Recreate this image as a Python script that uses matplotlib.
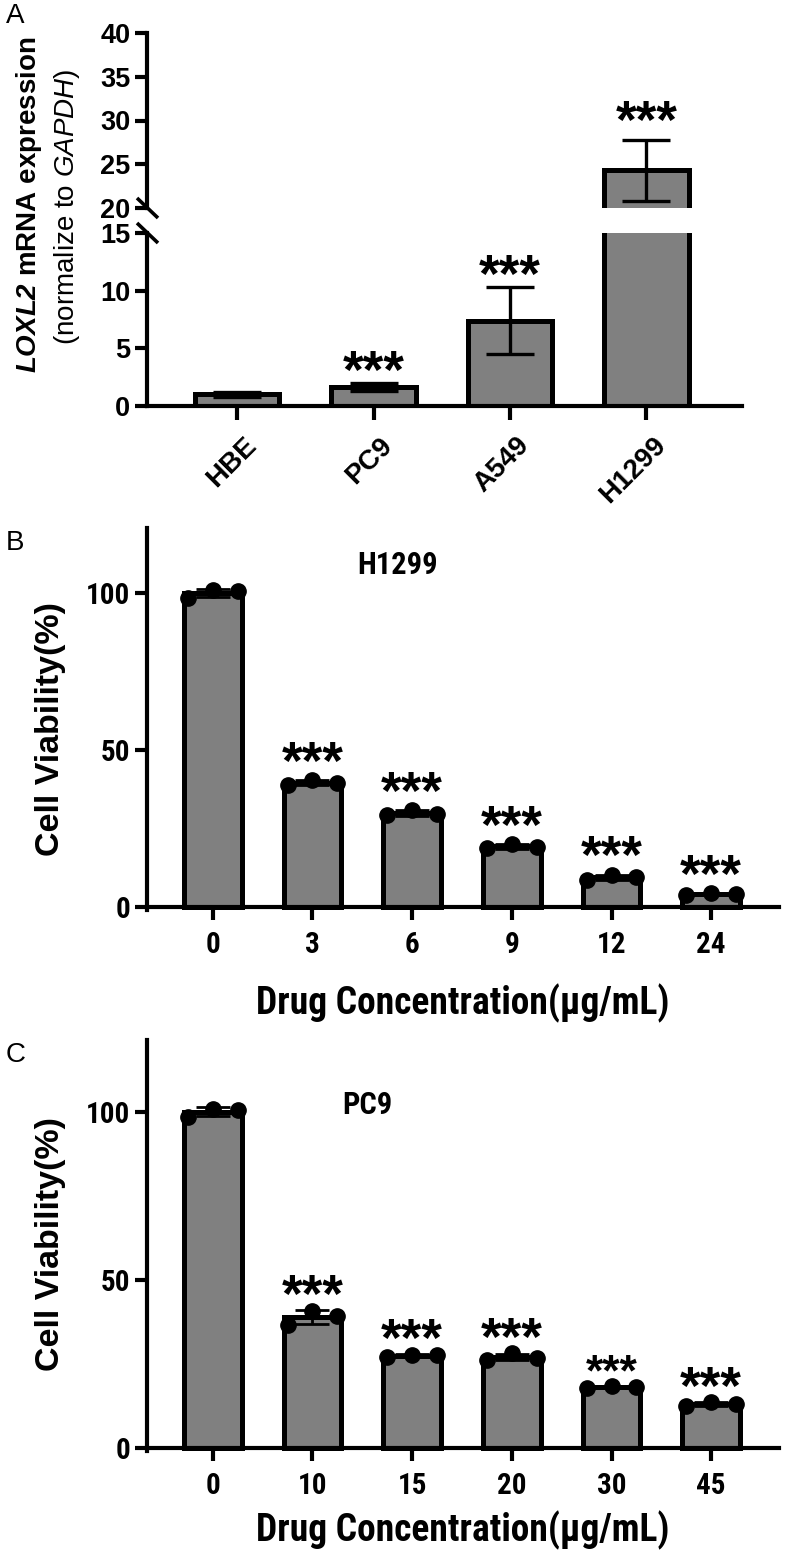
import os
import matplotlib
matplotlib.use('Agg')
import matplotlib.pyplot as plt
from matplotlib import font_manager as fm
from matplotlib.font_manager import FontProperties
from matplotlib.lines import Line2D
from matplotlib.transforms import ScaledTranslation
import numpy as np

# ---------------- data ----------------
a_cells = ['HBE', 'PC9', 'A549', 'H1299']
a_mean = [1.0, 1.65, 7.4, 24.3]
a_err = [0.2, 0.35, 2.9, 3.5]
a_sig = ['', '***', '***', '***']

b_title = 'H1299'
b_conc = ['0', '3', '6', '9', '12', '24']
b_rep1 = [98.5, 38.9, 29.3, 18.8, 8.5, 3.8]
b_rep2 = [101.0, 40.4, 30.9, 20.1, 10.3, 4.5]
b_rep3 = [100.5, 39.5, 29.5, 19.0, 9.5, 4.2]
b_sig = ['', '***', '***', '***', '***', '***']

c_title = 'PC9'
c_conc = ['0', '10', '15', '20', '30', '45']
c_rep1 = [98.5, 36.6, 27.1, 26.2, 17.8, 12.5]
c_rep2 = [101.0, 40.8, 27.7, 28.2, 18.5, 13.6]
c_rep3 = [100.5, 39.3, 27.7, 26.8, 18.2, 13.0]
c_sig = ['', '***', '***', '***', '***', '***']

# ---------------- fonts ----------------
W, H = 789, 1555
ARIAL = 'Liberation Sans'
plt.rcParams['font.family'] = [ARIAL, 'DejaVu Sans']
plt.rcParams['mathtext.fontset'] = 'custom'
plt.rcParams['mathtext.rm'] = ARIAL
plt.rcParams['mathtext.it'] = ARIAL + ':italic'
plt.rcParams['mathtext.bf'] = ARIAL + ':bold'
try:
    plt.rcParams['mathtext.bfit'] = ARIAL + ':italic:bold'
except Exception:
    pass


def is_bold(f):
    w = f.weight
    try:
        return int(w) >= 600
    except Exception:
        return str(w).lower() in ('bold', 'semibold', 'demibold', 'heavy', 'extra bold', 'black')


def pick_narrow():
    ents = fm.fontManager.ttflist
    prefs = ['Liberation Sans Narrow', 'Arimo Narrow', 'Roboto Condensed', 'Open Sans Condensed']
    for p in prefs:
        for f in ents:
            if f.name == p and is_bold(f) and f.style == 'normal':
                return f.fname
    for f in ents:
        st = str(f.stretch).lower()
        base = os.path.basename(f.fname).lower()
        if ('condensed' in st or 'narrow' in base or 'condensed' in base) and is_bold(f) \
                and f.style == 'normal' and 'extra' not in st and 'ultra' not in st:
            return f.fname
    return None


NARROW_FILE = pick_narrow()


def nfp(size):
    if NARROW_FILE:
        return FontProperties(fname=NARROW_FILE, size=size)
    return FontProperties(family=ARIAL, weight='bold', size=size)


GRAY = '#808080'
LW_AX = 3.0
STAR = 38

fig = plt.figure(figsize=(W / 100, H / 100), dpi=100)


def add_ax(l, t, r, b):
    return fig.add_axes([l / W, 1 - b / H, (r - l) / W, (b - t) / H])


def fig_line(x0, y0, x1, y1, lw):
    fig.add_artist(Line2D([x0 / W, x1 / W], [1 - y0 / H, 1 - y1 / H],
                          transform=fig.transFigure, color='black', lw=lw,
                          solid_capstyle='butt'))


# ---------------- panel A ----------------
xa = np.arange(len(a_cells))
axl = add_ax(147, 233, 742, 406)
axu = add_ax(147, 33, 742, 208)
for ax in (axl, axu):
    ax.bar(xa, a_mean, width=0.62, color=GRAY, edgecolor='black', linewidth=3.6, zorder=2)
    ax.errorbar(xa, a_mean, yerr=a_err, fmt='none', ecolor='black', elinewidth=2.4,
                capsize=17, capthick=2.4, zorder=3)
    ax.set_xlim(-0.66, 3.70)
    ax.spines['right'].set_visible(False)
    ax.spines['top'].set_visible(False)
    ax.spines['left'].set_linewidth(LW_AX)
    ax.tick_params(axis='y', length=9, width=LW_AX, labelsize=19.5, pad=3)
axl.set_ylim(0, 15)
axl.set_yticks([0, 5, 10, 15])
axu.set_ylim(20, 40)
axu.set_yticks([20, 25, 30, 35, 40])
for ax in (axl, axu):
    for t in ax.get_yticklabels():
        t.set_fontweight('bold')
axu.spines['bottom'].set_visible(False)
axu.set_xticks([])
axl.spines['bottom'].set_linewidth(LW_AX)
axl.set_xticks(xa)
axl.set_xticklabels(a_cells, rotation=45, ha='right', va='top', rotation_mode='anchor',
                    fontsize=20, fontweight='bold')
axl.tick_params(axis='x', length=10, width=LW_AX, pad=9)
for t in axl.get_xticklabels():
    t.set_transform(t.get_transform() + ScaledTranslation(6 / 100, 0, fig.dpi_scale_trans))

for i, s in enumerate(a_sig):
    if not s:
        continue
    top = a_mean[i] + a_err[i]
    if top <= 15:
        ax, off = axl, -3.5
    else:
        ax, off = axu, 1.5
    ax.annotate(s, (xa[i], top), xytext=(0, off), textcoords='offset points',
                ha='center', va='baseline', fontsize=STAR, fontweight='bold',
                annotation_clip=False)

# break marks
fig_line(137, 198, 158, 218, 2.6)
fig_line(137, 223, 158, 243, 2.6)

fig.text(29 / W, 1 - 205 / H, r'$\mathbfit{LOXL2}$ mRNA expression', rotation=90,
         ha='center', va='center', fontsize=20, fontweight='bold')
fig.text(67 / W, 1 - 207 / H, r'(normalize to $\mathit{GAPDH}$)', rotation=90,
         ha='center', va='center', fontsize=20)
fig.text(6 / W, 1 - 3 / H, 'A', ha='left', va='top', fontsize=20)


# ---------------- panels B and C ----------------
def viability_panel(top_px, base_px, ymax, conc, reps, sigs, title, title_xy,
                    label_pad, ylabel_y, star_sizes, star_off):
    bottom_px = base_px + 3
    ax = add_ax(147, top_px, 779, bottom_px)
    ppu = (base_px - top_px) / ymax
    ymin = -(bottom_px - base_px) / ppu
    x = np.arange(len(conc))
    data = np.array(reps)
    mean = data.mean(axis=0)
    sd = data.std(axis=0, ddof=1)
    ax.bar(x, mean, width=0.58, color=GRAY, edgecolor='black', linewidth=3.6, zorder=2)
    ax.errorbar(x, mean, yerr=sd, fmt='none', ecolor='black', elinewidth=2.0,
                capsize=12.5, capthick=2.0, zorder=3)
    offs = [-0.25, 0.0, 0.25]
    for k, r in enumerate(reps):
        ax.plot(x + offs[k], r, 'o', color='black', markersize=11, zorder=4, clip_on=False)
    for i, s in enumerate(sigs):
        if not s:
            continue
        ax.annotate(s, (x[i], data[:, i].max()), xytext=(0, star_off[i]),
                    textcoords='offset points', ha='center', va='baseline',
                    fontsize=star_sizes[i], fontweight='bold')
    ax.set_xlim(-0.66, 5.68)
    ax.set_ylim(ymin, ymax)
    ax.set_yticks([0, 50, 100])
    ax.set_xticks(x)
    ax.set_xticklabels(conc)
    ax.spines['right'].set_visible(False)
    ax.spines['top'].set_visible(False)
    ax.spines['left'].set_linewidth(LW_AX)
    ax.spines['bottom'].set_linewidth(LW_AX)
    ax.spines['bottom'].set_position(('data', 0))
    ax.tick_params(axis='both', length=9, width=LW_AX)
    ax.tick_params(axis='x', pad=8)
    ax.tick_params(axis='y', pad=3)
    for t in ax.get_xticklabels() + ax.get_yticklabels():
        t.set_fontproperties(nfp(21))
    ax.set_xlabel('Drug Concentration(μg/mL)', fontproperties=nfp(27), labelpad=label_pad)
    ax.text(title_xy[0], title_xy[1], title, transform=ax.transData, ha='center',
            va='center', fontproperties=nfp(22))
    fig.text(50 / W, 1 - ylabel_y / H, 'Cell Viability(%)', rotation=90, ha='center',
             va='center', fontsize=24.5, fontweight='bold')
    return ax


axb = viability_panel(528, 907, 120.7, b_conc, [b_rep1, b_rep2, b_rep3], b_sig, b_title,
                      (1.85, 109), 18, 729, [STAR] * 6, [1] * 6)
fig.text(6 / W, 1 - 530 / H, 'B', ha='left', va='top', fontsize=20)

axc = viability_panel(1040, 1448, 121.4, c_conc, [c_rep1, c_rep2, c_rep3], c_sig, c_title,
                      (1.55, 102), 8, 1244, [STAR, STAR, STAR, STAR, 32, STAR],
                      [-1, -1, -1, -1, 0, -1])
fig.text(6 / W, 1 - 1042 / H, 'C', ha='left', va='top', fontsize=20)

fig.savefig('out.png', dpi=100)
